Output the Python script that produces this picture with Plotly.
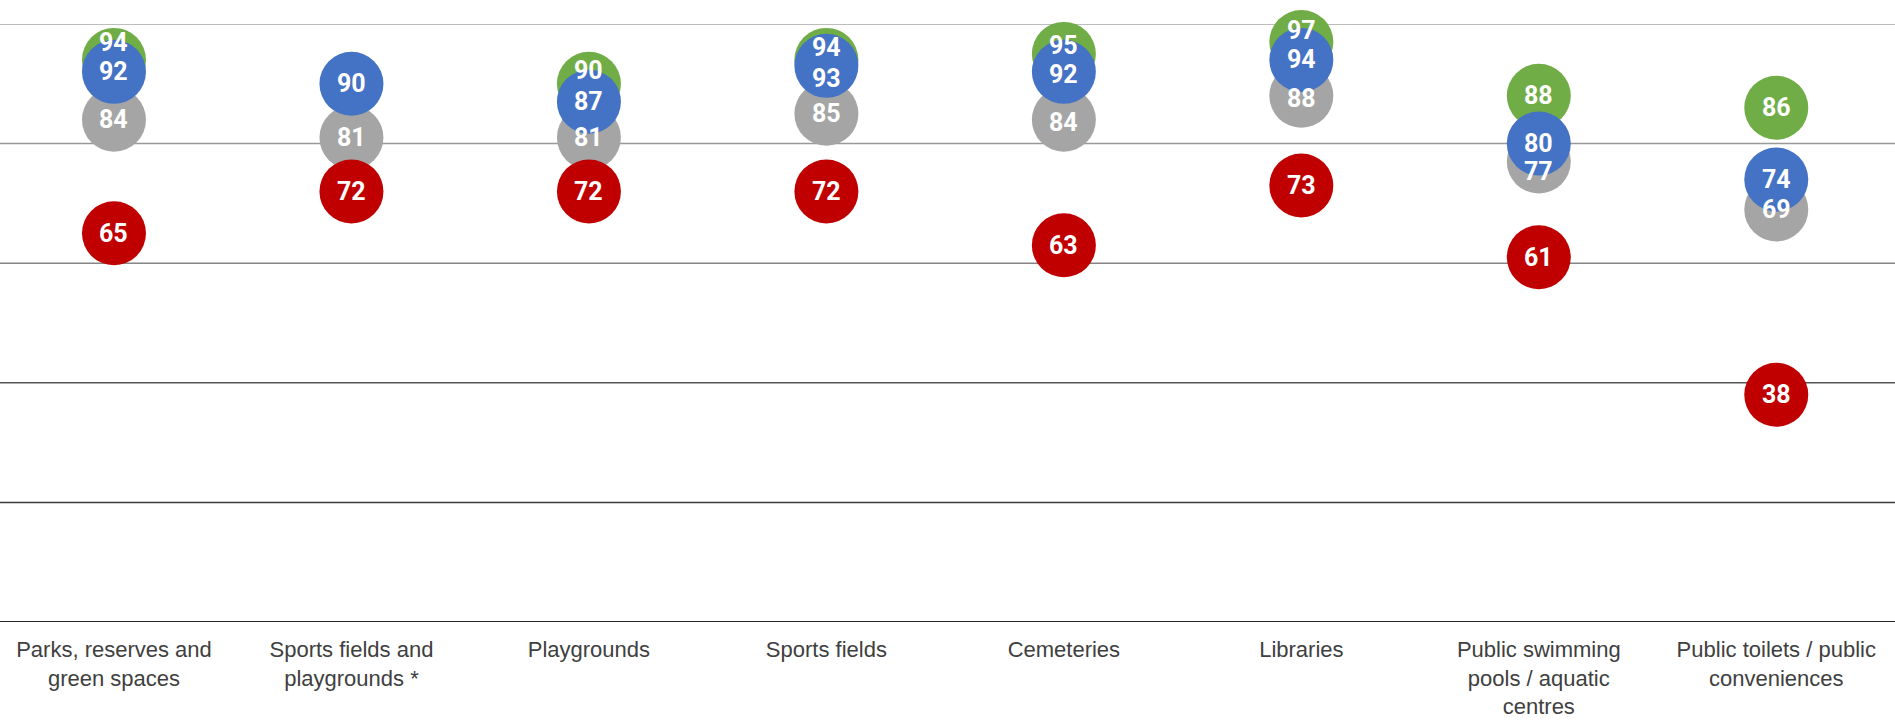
"""Dot plot: satisfaction with council facilities, four groups per facility."""

import plotly.graph_objects as go

CATEGORIES = [
    "Parks, reserves and<br>green spaces",
    "Sports fields and<br>playgrounds *",
    "Playgrounds",
    "Sports fields",
    "Cemeteries",
    "Libraries",
    "Public swimming<br>pools / aquatic<br>centres",
    "Public toilets / public<br>conveniences",
]

GREEN = [94, None, 90, 94, 95, 97, 88, 86]
BLUE = [92, 90, 87, 93, 92, 94, 80, 74]
GREY = [84, 81, 81, 85, 84, 88, 77, 69]
RED = [65, 72, 72, 72, 63, 73, 61, 38]

Y_TICKS = [0, 20, 40, 60, 80, 100]

# drawing order: later series sit on top
SERIES = [
    ("green", GREEN, "#70AD47"),
    ("grey", GREY, "#A5A5A5"),
    ("red", RED, "#C00000"),
    ("blue", BLUE, "#4472C4"),
]

# manual label nudges (px, + is up) where the dots overlap
NUDGE = {
    ("green", 0): 17, ("green", 2): 13, ("green", 3): 12, ("blue", 3): -13,
    ("green", 4): 8, ("blue", 4): -3, ("grey", 4): -3,
    ("green", 5): 11, ("grey", 5): -3, ("grey", 6): -10,
}

# gridlines darken towards the baseline
GRID_COLORS = {0: "#262626", 20: "#3a3a3a", 40: "#555555",
               60: "#868686", 80: "#999999", 100: "#a6a6a6"}

x_idx = list(range(len(CATEGORIES)))

fig = go.Figure()
for name, vals, color in SERIES:
    fig.add_trace(go.Scatter(
        x=x_idx, y=vals, mode="markers", name=name, cliponaxis=False,
        marker=dict(size=64, color=color, line=dict(width=0)),
        hovertemplate="%{y}<extra></extra>",
    ))

annotations = []
for name, vals, _ in SERIES:
    for i, v in enumerate(vals):
        if v is None:
            continue
        annotations.append(dict(
            x=i, y=v, xref="x", yref="y", text=f"<b>{v}</b>", showarrow=False,
            yshift=NUDGE.get((name, i), 0),
            font=dict(family="Roboto", size=25, color="white"),
        ))

shapes = []
for t in Y_TICKS:
    shapes.append(dict(
        type="line", xref="paper", yref="y", x0=0, x1=1, y0=t, y1=t,
        line=dict(color=GRID_COLORS[t], width=2 if t == 0 else 1.5), layer="below",
    ))

fig.update_layout(
    width=1895, height=721,
    margin=dict(l=0, r=0, t=24, b=99),
    paper_bgcolor="white", plot_bgcolor="white",
    showlegend=False,
    shapes=shapes, annotations=annotations,
)
fig.update_xaxes(
    range=[-0.48, 7.5], tickvals=x_idx, ticktext=CATEGORIES,
    showgrid=False, zeroline=False, showline=False, ticks="",
    ticklabelstandoff=12, automargin=False,
    tickfont=dict(family="Liberation Sans", size=22, color="#404040"),
)
fig.update_yaxes(
    range=[0, 100], showgrid=False, zeroline=False, showticklabels=False,
    fixedrange=True, automargin=False,
)

fig.write_html("out.html", config={"displayModeBar": False},
               post_script="document.body.style.margin='0';")
